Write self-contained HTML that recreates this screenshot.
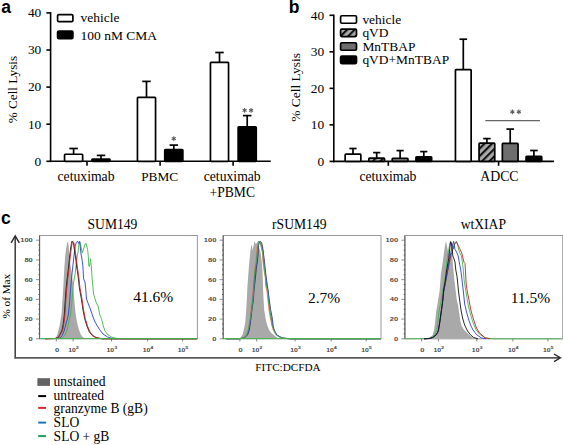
<!DOCTYPE html><html><head><meta charset="utf-8"><style>html,body{margin:0;padding:0;background:#fff;width:563px;height:445px;overflow:hidden}svg{display:block}</style></head><body>
<svg width="563" height="445" viewBox="0 0 563 445">
<defs><pattern id="hL" patternUnits="userSpaceOnUse" width="5.3" height="5.3" patternTransform="translate(0.62,0) rotate(45)"><rect width="5.3" height="5.3" fill="#a9a9a9"/><rect width="2.1" height="5.3" fill="#111"/></pattern><pattern id="hC" patternUnits="userSpaceOnUse" width="5.3" height="5.3" patternTransform="translate(0.52,0) rotate(45)"><rect width="5.3" height="5.3" fill="#a9a9a9"/><rect width="2.1" height="5.3" fill="#111"/></pattern><pattern id="hA" patternUnits="userSpaceOnUse" width="5.3" height="5.3" patternTransform="translate(4.62,0) rotate(45)"><rect width="5.3" height="5.3" fill="#a9a9a9"/><rect width="2.1" height="5.3" fill="#111"/></pattern></defs>
<rect width="563" height="445" fill="#fff"/>
<text x="1.2" y="12.6" font-family='"Liberation Sans", sans-serif' font-size="17.5" font-weight="bold" fill="#000" text-anchor="start" >a</text>
<line x1="50.6" y1="12.1" x2="50.6" y2="162.1" stroke="#000" stroke-width="1.6" stroke-linecap="butt"/>
<line x1="46.4" y1="161.3" x2="50.6" y2="161.3" stroke="#000" stroke-width="1.6" stroke-linecap="butt"/>
<text x="41.3" y="165.6" font-family='"Liberation Serif", serif' font-size="13.4" font-weight="normal" fill="#000" text-anchor="end" >0</text>
<line x1="46.4" y1="124.2" x2="50.6" y2="124.2" stroke="#000" stroke-width="1.6" stroke-linecap="butt"/>
<text x="41.3" y="128.5" font-family='"Liberation Serif", serif' font-size="13.4" font-weight="normal" fill="#000" text-anchor="end" >10</text>
<line x1="46.4" y1="87.1" x2="50.6" y2="87.1" stroke="#000" stroke-width="1.6" stroke-linecap="butt"/>
<text x="41.3" y="91.4" font-family='"Liberation Serif", serif' font-size="13.4" font-weight="normal" fill="#000" text-anchor="end" >20</text>
<line x1="46.4" y1="50" x2="50.6" y2="50" stroke="#000" stroke-width="1.6" stroke-linecap="butt"/>
<text x="41.3" y="54.3" font-family='"Liberation Serif", serif' font-size="13.4" font-weight="normal" fill="#000" text-anchor="end" >30</text>
<line x1="46.4" y1="12.9" x2="50.6" y2="12.9" stroke="#000" stroke-width="1.6" stroke-linecap="butt"/>
<text x="41.3" y="17.2" font-family='"Liberation Serif", serif' font-size="13.4" font-weight="normal" fill="#000" text-anchor="end" >40</text>
<line x1="49.8" y1="161.3" x2="270.8" y2="161.3" stroke="#000" stroke-width="1.6" stroke-linecap="butt"/>
<line x1="87" y1="161.3" x2="87" y2="165.8" stroke="#000" stroke-width="1.6" stroke-linecap="butt"/>
<line x1="160.1" y1="161.3" x2="160.1" y2="165.8" stroke="#000" stroke-width="1.6" stroke-linecap="butt"/>
<line x1="233.1" y1="161.3" x2="233.1" y2="165.8" stroke="#000" stroke-width="1.6" stroke-linecap="butt"/>
<text transform="translate(16.5,89.6) rotate(-90)" font-family='"Liberation Serif", serif' font-size="13.2" text-anchor="middle">% Cell Lysis</text>
<rect x="57.6" y="14.6" width="15.3" height="7.0" fill="#fff" stroke="#000" stroke-width="1.7" rx="1.2"/>
<rect x="57.6" y="31.1" width="15.3" height="7.6" fill="#000" stroke="#000" stroke-width="1.7" rx="1.2"/>
<text x="80.5" y="21.5" font-family='"Liberation Serif", serif' font-size="13.5" font-weight="normal" fill="#000" text-anchor="start" >vehicle</text>
<text x="80.5" y="39.6" font-family='"Liberation Serif", serif' font-size="13.5" font-weight="normal" fill="#000" text-anchor="start" >100 nM CMA</text>
<line x1="73.6" y1="148.5" x2="73.6" y2="154.25" stroke="#000" stroke-width="1.7" stroke-linecap="butt"/>
<line x1="69.35" y1="148.5" x2="77.85" y2="148.5" stroke="#000" stroke-width="1.7" stroke-linecap="butt"/>
<rect x="64.55" y="154.25" width="18.1" height="7.05" fill="#fff" stroke="#000" stroke-width="1.7" stroke-linejoin="round" rx="0.7"/>
<line x1="101" y1="155.4" x2="101" y2="159.05" stroke="#000" stroke-width="1.7" stroke-linecap="butt"/>
<line x1="96.75" y1="155.4" x2="105.25" y2="155.4" stroke="#000" stroke-width="1.7" stroke-linecap="butt"/>
<rect x="91.95" y="159.05" width="18.1" height="2.25" fill="#000" stroke="#000" stroke-width="1.7" stroke-linejoin="round" rx="0.7"/>
<line x1="146.5" y1="81.4" x2="146.5" y2="97.35" stroke="#000" stroke-width="1.7" stroke-linecap="butt"/>
<line x1="142.25" y1="81.4" x2="150.75" y2="81.4" stroke="#000" stroke-width="1.7" stroke-linecap="butt"/>
<rect x="137.45" y="97.35" width="18.1" height="63.95" fill="#fff" stroke="#000" stroke-width="1.7" stroke-linejoin="round" rx="0.7"/>
<line x1="173.8" y1="145.1" x2="173.8" y2="149.65" stroke="#000" stroke-width="1.7" stroke-linecap="butt"/>
<line x1="169.55" y1="145.1" x2="178.05" y2="145.1" stroke="#000" stroke-width="1.7" stroke-linecap="butt"/>
<rect x="164.75" y="149.65" width="18.1" height="11.65" fill="#000" stroke="#000" stroke-width="1.7" stroke-linejoin="round" rx="0.7"/>
<line x1="219.5" y1="52.5" x2="219.5" y2="62.45" stroke="#000" stroke-width="1.7" stroke-linecap="butt"/>
<line x1="215.25" y1="52.5" x2="223.75" y2="52.5" stroke="#000" stroke-width="1.7" stroke-linecap="butt"/>
<rect x="210.45" y="62.45" width="18.1" height="98.85" fill="#fff" stroke="#000" stroke-width="1.7" stroke-linejoin="round" rx="0.7"/>
<line x1="247.2" y1="115.6" x2="247.2" y2="126.85" stroke="#000" stroke-width="1.7" stroke-linecap="butt"/>
<line x1="242.95" y1="115.6" x2="251.45" y2="115.6" stroke="#000" stroke-width="1.7" stroke-linecap="butt"/>
<rect x="238.15" y="126.85" width="18.1" height="34.45" fill="#000" stroke="#000" stroke-width="1.7" stroke-linejoin="round" rx="0.7"/>
<line x1="173.8" y1="136.25" x2="173.8" y2="140.95" stroke="#555" stroke-width="1.05" stroke-linecap="butt"/>
<line x1="175.84" y1="137.42" x2="171.76" y2="139.78" stroke="#555" stroke-width="1.05" stroke-linecap="butt"/>
<line x1="175.84" y1="139.78" x2="171.76" y2="137.42" stroke="#555" stroke-width="1.05" stroke-linecap="butt"/>
<line x1="244.6" y1="107.95" x2="244.6" y2="112.65" stroke="#555" stroke-width="1.05" stroke-linecap="butt"/>
<line x1="246.64" y1="109.12" x2="242.56" y2="111.47" stroke="#555" stroke-width="1.05" stroke-linecap="butt"/>
<line x1="246.64" y1="111.47" x2="242.56" y2="109.12" stroke="#555" stroke-width="1.05" stroke-linecap="butt"/>
<line x1="251.1" y1="107.95" x2="251.1" y2="112.65" stroke="#555" stroke-width="1.05" stroke-linecap="butt"/>
<line x1="253.14" y1="109.12" x2="249.06" y2="111.47" stroke="#555" stroke-width="1.05" stroke-linecap="butt"/>
<line x1="253.14" y1="111.47" x2="249.06" y2="109.12" stroke="#555" stroke-width="1.05" stroke-linecap="butt"/>
<text x="86" y="180.6" font-family='"Liberation Serif", serif' font-size="13.7" font-weight="normal" fill="#000" text-anchor="middle" >cetuximab</text>
<text x="159.7" y="181" font-family='"Liberation Serif", serif' font-size="13.3" font-weight="normal" fill="#000" text-anchor="middle" >PBMC</text>
<text x="232.2" y="180.6" font-family='"Liberation Serif", serif' font-size="13.7" font-weight="normal" fill="#000" text-anchor="middle" >cetuximab</text>
<text x="232.3" y="196.8" font-family='"Liberation Serif", serif' font-size="13.6" font-weight="normal" fill="#000" text-anchor="middle" >+PBMC</text>
<text x="288.8" y="12.6" font-family='"Liberation Sans", sans-serif' font-size="17.5" font-weight="bold" fill="#000" text-anchor="start" >b</text>
<line x1="333.8" y1="14.5" x2="333.8" y2="162.2" stroke="#000" stroke-width="1.6" stroke-linecap="butt"/>
<line x1="329.5" y1="161.4" x2="333.8" y2="161.4" stroke="#000" stroke-width="1.6" stroke-linecap="butt"/>
<text x="324.2" y="165.8" font-family='"Liberation Serif", serif' font-size="13.4" font-weight="normal" fill="#000" text-anchor="end" >0</text>
<line x1="329.5" y1="124.88" x2="333.8" y2="124.88" stroke="#000" stroke-width="1.6" stroke-linecap="butt"/>
<text x="324.2" y="129.28" font-family='"Liberation Serif", serif' font-size="13.4" font-weight="normal" fill="#000" text-anchor="end" >10</text>
<line x1="329.5" y1="88.35" x2="333.8" y2="88.35" stroke="#000" stroke-width="1.6" stroke-linecap="butt"/>
<text x="324.2" y="92.75" font-family='"Liberation Serif", serif' font-size="13.4" font-weight="normal" fill="#000" text-anchor="end" >20</text>
<line x1="329.5" y1="51.83" x2="333.8" y2="51.83" stroke="#000" stroke-width="1.6" stroke-linecap="butt"/>
<text x="324.2" y="56.23" font-family='"Liberation Serif", serif' font-size="13.4" font-weight="normal" fill="#000" text-anchor="end" >30</text>
<line x1="329.5" y1="15.3" x2="333.8" y2="15.3" stroke="#000" stroke-width="1.6" stroke-linecap="butt"/>
<text x="324.2" y="19.7" font-family='"Liberation Serif", serif' font-size="13.4" font-weight="normal" fill="#000" text-anchor="end" >40</text>
<line x1="333" y1="161.4" x2="554" y2="161.4" stroke="#000" stroke-width="1.6" stroke-linecap="butt"/>
<line x1="388.3" y1="161.4" x2="388.3" y2="165.8" stroke="#000" stroke-width="1.6" stroke-linecap="butt"/>
<line x1="498.6" y1="161.4" x2="498.6" y2="165.8" stroke="#000" stroke-width="1.6" stroke-linecap="butt"/>
<text transform="translate(300.0,87.4) rotate(-90)" font-family='"Liberation Serif", serif' font-size="13.45" text-anchor="middle">% Cell Lysis</text>
<rect x="340.6" y="15.75" width="15.9" height="7.5" fill="#fff" stroke="#000" stroke-width="1.7" rx="1.2"/>
<text x="362.4" y="23.8" font-family='"Liberation Serif", serif' font-size="13.45" font-weight="normal" fill="#000" text-anchor="start" >vehicle</text>
<rect x="340.6" y="29.05" width="15.9" height="7.5" fill="url(#hL)" stroke="#000" stroke-width="1.7" rx="1.2"/>
<text x="362.4" y="37.1" font-family='"Liberation Serif", serif' font-size="13.45" font-weight="normal" fill="#000" text-anchor="start" >qVD</text>
<rect x="340.6" y="42.75" width="15.9" height="7.5" fill="#6e6e6e" stroke="#000" stroke-width="1.7" rx="1.2"/>
<text x="362.4" y="50.8" font-family='"Liberation Serif", serif' font-size="13.45" font-weight="normal" fill="#000" text-anchor="start" >MnTBAP</text>
<rect x="340.6" y="56.05" width="15.9" height="7.5" fill="#000" stroke="#000" stroke-width="1.7" rx="1.2"/>
<text x="362.4" y="64.1" font-family='"Liberation Serif", serif' font-size="13.45" font-weight="normal" fill="#000" text-anchor="start" >qVD+MnTBAP</text>
<line x1="353" y1="148.5" x2="353" y2="154.05" stroke="#000" stroke-width="1.7" stroke-linecap="butt"/>
<line x1="349.4" y1="148.5" x2="356.6" y2="148.5" stroke="#000" stroke-width="1.7" stroke-linecap="butt"/>
<rect x="345.15" y="154.05" width="15.7" height="7.35" fill="#fff" stroke="#000" stroke-width="1.7" stroke-linejoin="round" rx="0.7"/>
<line x1="376.7" y1="152.6" x2="376.7" y2="158.15" stroke="#000" stroke-width="1.7" stroke-linecap="butt"/>
<line x1="373.1" y1="152.6" x2="380.3" y2="152.6" stroke="#000" stroke-width="1.7" stroke-linecap="butt"/>
<rect x="368.85" y="158.15" width="15.7" height="3.25" fill="url(#hC)" stroke="#000" stroke-width="1.7" stroke-linejoin="round" rx="0.7"/>
<line x1="400.1" y1="150.6" x2="400.1" y2="158.25" stroke="#000" stroke-width="1.7" stroke-linecap="butt"/>
<line x1="396.5" y1="150.6" x2="403.7" y2="150.6" stroke="#000" stroke-width="1.7" stroke-linecap="butt"/>
<rect x="392.25" y="158.25" width="15.7" height="3.15" fill="#6e6e6e" stroke="#000" stroke-width="1.7" stroke-linejoin="round" rx="0.7"/>
<line x1="423.8" y1="151.6" x2="423.8" y2="156.85" stroke="#000" stroke-width="1.7" stroke-linecap="butt"/>
<line x1="420.2" y1="151.6" x2="427.4" y2="151.6" stroke="#000" stroke-width="1.7" stroke-linecap="butt"/>
<rect x="415.95" y="156.85" width="15.7" height="4.55" fill="#000" stroke="#000" stroke-width="1.7" stroke-linejoin="round" rx="0.7"/>
<line x1="463.3" y1="39.2" x2="463.3" y2="69.55" stroke="#000" stroke-width="1.7" stroke-linecap="butt"/>
<line x1="459.5" y1="39.2" x2="467.1" y2="39.2" stroke="#000" stroke-width="1.7" stroke-linecap="butt"/>
<rect x="455.45" y="69.55" width="15.7" height="91.85" fill="#fff" stroke="#000" stroke-width="1.7" stroke-linejoin="round" rx="0.7"/>
<line x1="486.9" y1="138.6" x2="486.9" y2="143.15" stroke="#000" stroke-width="1.7" stroke-linecap="butt"/>
<line x1="483.2" y1="138.6" x2="490.6" y2="138.6" stroke="#000" stroke-width="1.7" stroke-linecap="butt"/>
<rect x="479.05" y="143.15" width="15.7" height="18.25" fill="url(#hA)" stroke="#000" stroke-width="1.7" stroke-linejoin="round" rx="0.7"/>
<line x1="510.2" y1="129.1" x2="510.2" y2="143.45" stroke="#000" stroke-width="1.7" stroke-linecap="butt"/>
<line x1="506.4" y1="129.1" x2="514" y2="129.1" stroke="#000" stroke-width="1.7" stroke-linecap="butt"/>
<rect x="502.35" y="143.45" width="15.7" height="17.95" fill="#6e6e6e" stroke="#000" stroke-width="1.7" stroke-linejoin="round" rx="0.7"/>
<line x1="533.9" y1="150.5" x2="533.9" y2="156.25" stroke="#000" stroke-width="1.7" stroke-linecap="butt"/>
<line x1="530.1" y1="150.5" x2="537.7" y2="150.5" stroke="#000" stroke-width="1.7" stroke-linecap="butt"/>
<rect x="526.05" y="156.25" width="15.7" height="5.15" fill="#000" stroke="#000" stroke-width="1.7" stroke-linejoin="round" rx="0.7"/>
<line x1="485.3" y1="120.6" x2="539.9" y2="120.6" stroke="#666" stroke-width="1.1" stroke-linecap="butt"/>
<line x1="512.35" y1="109.45" x2="512.35" y2="114.15" stroke="#555" stroke-width="1.05" stroke-linecap="butt"/>
<line x1="514.39" y1="110.62" x2="510.31" y2="112.97" stroke="#555" stroke-width="1.05" stroke-linecap="butt"/>
<line x1="514.39" y1="112.97" x2="510.31" y2="110.62" stroke="#555" stroke-width="1.05" stroke-linecap="butt"/>
<line x1="518.85" y1="109.45" x2="518.85" y2="114.15" stroke="#555" stroke-width="1.05" stroke-linecap="butt"/>
<line x1="520.89" y1="110.62" x2="516.81" y2="112.97" stroke="#555" stroke-width="1.05" stroke-linecap="butt"/>
<line x1="520.89" y1="112.97" x2="516.81" y2="110.62" stroke="#555" stroke-width="1.05" stroke-linecap="butt"/>
<text x="387.9" y="180.6" font-family='"Liberation Serif", serif' font-size="13.7" font-weight="normal" fill="#000" text-anchor="middle" >cetuximab</text>
<text x="499.4" y="181.2" font-family='"Liberation Serif", serif' font-size="13.8" font-weight="normal" fill="#000" text-anchor="middle" >ADCC</text>
<text x="1" y="224.4" font-family='"Liberation Sans", sans-serif' font-size="17.5" font-weight="bold" fill="#000" text-anchor="start" >c</text>
<line x1="15.2" y1="236.5" x2="15.2" y2="358.5" stroke="#333" stroke-width="1.45" stroke-linecap="butt"/>
<line x1="14.5" y1="357.8" x2="560" y2="357.8" stroke="#5a5a5a" stroke-width="1.8" stroke-linecap="butt"/>
<polyline points="11.1,242.8 15.2,235.8 19.3,242.8" fill="none" stroke="#2a2a2a" stroke-width="1.4"/>
<polyline points="554.0,354.0 560.4,357.8 554.0,361.6" fill="none" stroke="#2a2a2a" stroke-width="1.4" stroke-linejoin="miter"/>
<text transform="translate(10.2,296.2) rotate(-90)" font-family='"Liberation Serif", serif' font-size="11.2" text-anchor="middle">% of Max</text>
<text x="288" y="371" font-family='"Liberation Serif", serif' font-size="11.2" font-weight="normal" fill="#000" text-anchor="middle" >FITC:DCFDA</text>
<rect x="39.6" y="235.5" width="157.8" height="103.3" fill="none" stroke="#999" stroke-width="1.0"/>
<line x1="36" y1="338.8" x2="39.6" y2="338.8" stroke="#777" stroke-width="0.8" stroke-linecap="butt"/>
<text transform="translate(32.8,340.75) scale(1.45,1)" font-family='"Liberation Sans", sans-serif' font-size="5.2" font-weight="bold" fill="#4a4a4a" text-anchor="end">0</text>
<line x1="36" y1="319.08" x2="39.6" y2="319.08" stroke="#777" stroke-width="0.8" stroke-linecap="butt"/>
<text transform="translate(32.8,321.03) scale(1.45,1)" font-family='"Liberation Sans", sans-serif' font-size="5.2" font-weight="bold" fill="#4a4a4a" text-anchor="end">20</text>
<line x1="36" y1="299.36" x2="39.6" y2="299.36" stroke="#777" stroke-width="0.8" stroke-linecap="butt"/>
<text transform="translate(32.8,301.31) scale(1.45,1)" font-family='"Liberation Sans", sans-serif' font-size="5.2" font-weight="bold" fill="#4a4a4a" text-anchor="end">40</text>
<line x1="36" y1="279.64" x2="39.6" y2="279.64" stroke="#777" stroke-width="0.8" stroke-linecap="butt"/>
<text transform="translate(32.8,281.59) scale(1.45,1)" font-family='"Liberation Sans", sans-serif' font-size="5.2" font-weight="bold" fill="#4a4a4a" text-anchor="end">60</text>
<line x1="36" y1="259.92" x2="39.6" y2="259.92" stroke="#777" stroke-width="0.8" stroke-linecap="butt"/>
<text transform="translate(32.8,261.87) scale(1.45,1)" font-family='"Liberation Sans", sans-serif' font-size="5.2" font-weight="bold" fill="#4a4a4a" text-anchor="end">80</text>
<line x1="36" y1="240.2" x2="39.6" y2="240.2" stroke="#777" stroke-width="0.8" stroke-linecap="butt"/>
<text transform="translate(32.8,242.15) scale(1.45,1)" font-family='"Liberation Sans", sans-serif' font-size="5.2" font-weight="bold" fill="#4a4a4a" text-anchor="end">100</text>
<line x1="38.4" y1="333.87" x2="40" y2="333.87" stroke="#555" stroke-width="0.9" stroke-linecap="butt"/>
<line x1="38.4" y1="328.94" x2="40" y2="328.94" stroke="#555" stroke-width="0.9" stroke-linecap="butt"/>
<line x1="38.4" y1="324.01" x2="40" y2="324.01" stroke="#555" stroke-width="0.9" stroke-linecap="butt"/>
<line x1="38.4" y1="314.15" x2="40" y2="314.15" stroke="#555" stroke-width="0.9" stroke-linecap="butt"/>
<line x1="38.4" y1="309.22" x2="40" y2="309.22" stroke="#555" stroke-width="0.9" stroke-linecap="butt"/>
<line x1="38.4" y1="304.29" x2="40" y2="304.29" stroke="#555" stroke-width="0.9" stroke-linecap="butt"/>
<line x1="38.4" y1="294.43" x2="40" y2="294.43" stroke="#555" stroke-width="0.9" stroke-linecap="butt"/>
<line x1="38.4" y1="289.5" x2="40" y2="289.5" stroke="#555" stroke-width="0.9" stroke-linecap="butt"/>
<line x1="38.4" y1="284.57" x2="40" y2="284.57" stroke="#555" stroke-width="0.9" stroke-linecap="butt"/>
<line x1="38.4" y1="274.71" x2="40" y2="274.71" stroke="#555" stroke-width="0.9" stroke-linecap="butt"/>
<line x1="38.4" y1="269.78" x2="40" y2="269.78" stroke="#555" stroke-width="0.9" stroke-linecap="butt"/>
<line x1="38.4" y1="264.85" x2="40" y2="264.85" stroke="#555" stroke-width="0.9" stroke-linecap="butt"/>
<line x1="38.4" y1="254.99" x2="40" y2="254.99" stroke="#555" stroke-width="0.9" stroke-linecap="butt"/>
<line x1="38.4" y1="250.06" x2="40" y2="250.06" stroke="#555" stroke-width="0.9" stroke-linecap="butt"/>
<line x1="38.4" y1="245.13" x2="40" y2="245.13" stroke="#555" stroke-width="0.9" stroke-linecap="butt"/>
<line x1="39.6" y1="235.5" x2="39.6" y2="338.8" stroke="#5a5a5a" stroke-width="1" stroke-linecap="butt"/>
<line x1="56.3" y1="338.8" x2="56.3" y2="341.4" stroke="#666" stroke-width="0.8" stroke-linecap="butt"/>
<text transform="translate(57.1,351.7) scale(1.45,1)" font-family='"Liberation Sans", sans-serif' font-size="5.2" font-weight="bold" fill="#4a4a4a" text-anchor="middle">0</text>
<line x1="73.1" y1="338.8" x2="73.1" y2="341.4" stroke="#666" stroke-width="0.8" stroke-linecap="butt"/>
<text transform="translate(73.5,351.7) scale(1.32,1)" font-family='"Liberation Sans", sans-serif' font-size="5.2" font-weight="bold" fill="#4a4a4a" text-anchor="middle">10<tspan dy="-2.3" font-size="4.2">2</tspan></text>
<line x1="111.5" y1="338.8" x2="111.5" y2="341.4" stroke="#666" stroke-width="0.8" stroke-linecap="butt"/>
<text transform="translate(111.9,351.7) scale(1.32,1)" font-family='"Liberation Sans", sans-serif' font-size="5.2" font-weight="bold" fill="#4a4a4a" text-anchor="middle">10<tspan dy="-2.3" font-size="4.2">3</tspan></text>
<line x1="147.6" y1="338.8" x2="147.6" y2="341.4" stroke="#666" stroke-width="0.8" stroke-linecap="butt"/>
<text transform="translate(148,351.7) scale(1.32,1)" font-family='"Liberation Sans", sans-serif' font-size="5.2" font-weight="bold" fill="#4a4a4a" text-anchor="middle">10<tspan dy="-2.3" font-size="4.2">4</tspan></text>
<line x1="182.6" y1="338.8" x2="182.6" y2="341.4" stroke="#666" stroke-width="0.8" stroke-linecap="butt"/>
<text transform="translate(183,351.7) scale(1.32,1)" font-family='"Liberation Sans", sans-serif' font-size="5.2" font-weight="bold" fill="#4a4a4a" text-anchor="middle">10<tspan dy="-2.3" font-size="4.2">5</tspan></text>
<text x="112.5" y="229.2" font-family='"Liberation Serif", serif' font-size="13.6" font-weight="normal" fill="#000" text-anchor="middle" >SUM149</text>
<text x="153.2" y="301.8" font-family='"Liberation Serif", serif' font-size="15.5" font-weight="normal" fill="#000" text-anchor="middle" >41.6%</text>
<rect x="223.2" y="235.5" width="157.8" height="103.3" fill="none" stroke="#999" stroke-width="1.0"/>
<line x1="219.6" y1="338.8" x2="223.2" y2="338.8" stroke="#777" stroke-width="0.8" stroke-linecap="butt"/>
<text transform="translate(216.4,340.75) scale(1.45,1)" font-family='"Liberation Sans", sans-serif' font-size="5.2" font-weight="bold" fill="#4a4a4a" text-anchor="end">0</text>
<line x1="219.6" y1="319.08" x2="223.2" y2="319.08" stroke="#777" stroke-width="0.8" stroke-linecap="butt"/>
<text transform="translate(216.4,321.03) scale(1.45,1)" font-family='"Liberation Sans", sans-serif' font-size="5.2" font-weight="bold" fill="#4a4a4a" text-anchor="end">20</text>
<line x1="219.6" y1="299.36" x2="223.2" y2="299.36" stroke="#777" stroke-width="0.8" stroke-linecap="butt"/>
<text transform="translate(216.4,301.31) scale(1.45,1)" font-family='"Liberation Sans", sans-serif' font-size="5.2" font-weight="bold" fill="#4a4a4a" text-anchor="end">40</text>
<line x1="219.6" y1="279.64" x2="223.2" y2="279.64" stroke="#777" stroke-width="0.8" stroke-linecap="butt"/>
<text transform="translate(216.4,281.59) scale(1.45,1)" font-family='"Liberation Sans", sans-serif' font-size="5.2" font-weight="bold" fill="#4a4a4a" text-anchor="end">60</text>
<line x1="219.6" y1="259.92" x2="223.2" y2="259.92" stroke="#777" stroke-width="0.8" stroke-linecap="butt"/>
<text transform="translate(216.4,261.87) scale(1.45,1)" font-family='"Liberation Sans", sans-serif' font-size="5.2" font-weight="bold" fill="#4a4a4a" text-anchor="end">80</text>
<line x1="219.6" y1="240.2" x2="223.2" y2="240.2" stroke="#777" stroke-width="0.8" stroke-linecap="butt"/>
<text transform="translate(216.4,242.15) scale(1.45,1)" font-family='"Liberation Sans", sans-serif' font-size="5.2" font-weight="bold" fill="#4a4a4a" text-anchor="end">100</text>
<line x1="222" y1="333.87" x2="223.6" y2="333.87" stroke="#555" stroke-width="0.9" stroke-linecap="butt"/>
<line x1="222" y1="328.94" x2="223.6" y2="328.94" stroke="#555" stroke-width="0.9" stroke-linecap="butt"/>
<line x1="222" y1="324.01" x2="223.6" y2="324.01" stroke="#555" stroke-width="0.9" stroke-linecap="butt"/>
<line x1="222" y1="314.15" x2="223.6" y2="314.15" stroke="#555" stroke-width="0.9" stroke-linecap="butt"/>
<line x1="222" y1="309.22" x2="223.6" y2="309.22" stroke="#555" stroke-width="0.9" stroke-linecap="butt"/>
<line x1="222" y1="304.29" x2="223.6" y2="304.29" stroke="#555" stroke-width="0.9" stroke-linecap="butt"/>
<line x1="222" y1="294.43" x2="223.6" y2="294.43" stroke="#555" stroke-width="0.9" stroke-linecap="butt"/>
<line x1="222" y1="289.5" x2="223.6" y2="289.5" stroke="#555" stroke-width="0.9" stroke-linecap="butt"/>
<line x1="222" y1="284.57" x2="223.6" y2="284.57" stroke="#555" stroke-width="0.9" stroke-linecap="butt"/>
<line x1="222" y1="274.71" x2="223.6" y2="274.71" stroke="#555" stroke-width="0.9" stroke-linecap="butt"/>
<line x1="222" y1="269.78" x2="223.6" y2="269.78" stroke="#555" stroke-width="0.9" stroke-linecap="butt"/>
<line x1="222" y1="264.85" x2="223.6" y2="264.85" stroke="#555" stroke-width="0.9" stroke-linecap="butt"/>
<line x1="222" y1="254.99" x2="223.6" y2="254.99" stroke="#555" stroke-width="0.9" stroke-linecap="butt"/>
<line x1="222" y1="250.06" x2="223.6" y2="250.06" stroke="#555" stroke-width="0.9" stroke-linecap="butt"/>
<line x1="222" y1="245.13" x2="223.6" y2="245.13" stroke="#555" stroke-width="0.9" stroke-linecap="butt"/>
<line x1="223.2" y1="235.5" x2="223.2" y2="338.8" stroke="#5a5a5a" stroke-width="1" stroke-linecap="butt"/>
<line x1="239.9" y1="338.8" x2="239.9" y2="341.4" stroke="#666" stroke-width="0.8" stroke-linecap="butt"/>
<text transform="translate(240.7,351.7) scale(1.45,1)" font-family='"Liberation Sans", sans-serif' font-size="5.2" font-weight="bold" fill="#4a4a4a" text-anchor="middle">0</text>
<line x1="256.7" y1="338.8" x2="256.7" y2="341.4" stroke="#666" stroke-width="0.8" stroke-linecap="butt"/>
<text transform="translate(257.1,351.7) scale(1.32,1)" font-family='"Liberation Sans", sans-serif' font-size="5.2" font-weight="bold" fill="#4a4a4a" text-anchor="middle">10<tspan dy="-2.3" font-size="4.2">2</tspan></text>
<line x1="295.1" y1="338.8" x2="295.1" y2="341.4" stroke="#666" stroke-width="0.8" stroke-linecap="butt"/>
<text transform="translate(295.5,351.7) scale(1.32,1)" font-family='"Liberation Sans", sans-serif' font-size="5.2" font-weight="bold" fill="#4a4a4a" text-anchor="middle">10<tspan dy="-2.3" font-size="4.2">3</tspan></text>
<line x1="331.2" y1="338.8" x2="331.2" y2="341.4" stroke="#666" stroke-width="0.8" stroke-linecap="butt"/>
<text transform="translate(331.6,351.7) scale(1.32,1)" font-family='"Liberation Sans", sans-serif' font-size="5.2" font-weight="bold" fill="#4a4a4a" text-anchor="middle">10<tspan dy="-2.3" font-size="4.2">4</tspan></text>
<line x1="366.2" y1="338.8" x2="366.2" y2="341.4" stroke="#666" stroke-width="0.8" stroke-linecap="butt"/>
<text transform="translate(366.6,351.7) scale(1.32,1)" font-family='"Liberation Sans", sans-serif' font-size="5.2" font-weight="bold" fill="#4a4a4a" text-anchor="middle">10<tspan dy="-2.3" font-size="4.2">5</tspan></text>
<text x="299.3" y="229.2" font-family='"Liberation Serif", serif' font-size="13.6" font-weight="normal" fill="#000" text-anchor="middle" >rSUM149</text>
<text x="324.1" y="302.8" font-family='"Liberation Serif", serif' font-size="15.5" font-weight="normal" fill="#000" text-anchor="middle" >2.7%</text>
<rect x="404.9" y="235.5" width="157.8" height="103.3" fill="none" stroke="#999" stroke-width="1.0"/>
<line x1="401.3" y1="338.8" x2="404.9" y2="338.8" stroke="#777" stroke-width="0.8" stroke-linecap="butt"/>
<text transform="translate(398.1,340.75) scale(1.45,1)" font-family='"Liberation Sans", sans-serif' font-size="5.2" font-weight="bold" fill="#4a4a4a" text-anchor="end">0</text>
<line x1="401.3" y1="319.08" x2="404.9" y2="319.08" stroke="#777" stroke-width="0.8" stroke-linecap="butt"/>
<text transform="translate(398.1,321.03) scale(1.45,1)" font-family='"Liberation Sans", sans-serif' font-size="5.2" font-weight="bold" fill="#4a4a4a" text-anchor="end">20</text>
<line x1="401.3" y1="299.36" x2="404.9" y2="299.36" stroke="#777" stroke-width="0.8" stroke-linecap="butt"/>
<text transform="translate(398.1,301.31) scale(1.45,1)" font-family='"Liberation Sans", sans-serif' font-size="5.2" font-weight="bold" fill="#4a4a4a" text-anchor="end">40</text>
<line x1="401.3" y1="279.64" x2="404.9" y2="279.64" stroke="#777" stroke-width="0.8" stroke-linecap="butt"/>
<text transform="translate(398.1,281.59) scale(1.45,1)" font-family='"Liberation Sans", sans-serif' font-size="5.2" font-weight="bold" fill="#4a4a4a" text-anchor="end">60</text>
<line x1="401.3" y1="259.92" x2="404.9" y2="259.92" stroke="#777" stroke-width="0.8" stroke-linecap="butt"/>
<text transform="translate(398.1,261.87) scale(1.45,1)" font-family='"Liberation Sans", sans-serif' font-size="5.2" font-weight="bold" fill="#4a4a4a" text-anchor="end">80</text>
<line x1="401.3" y1="240.2" x2="404.9" y2="240.2" stroke="#777" stroke-width="0.8" stroke-linecap="butt"/>
<text transform="translate(398.1,242.15) scale(1.45,1)" font-family='"Liberation Sans", sans-serif' font-size="5.2" font-weight="bold" fill="#4a4a4a" text-anchor="end">100</text>
<line x1="403.7" y1="333.87" x2="405.3" y2="333.87" stroke="#555" stroke-width="0.9" stroke-linecap="butt"/>
<line x1="403.7" y1="328.94" x2="405.3" y2="328.94" stroke="#555" stroke-width="0.9" stroke-linecap="butt"/>
<line x1="403.7" y1="324.01" x2="405.3" y2="324.01" stroke="#555" stroke-width="0.9" stroke-linecap="butt"/>
<line x1="403.7" y1="314.15" x2="405.3" y2="314.15" stroke="#555" stroke-width="0.9" stroke-linecap="butt"/>
<line x1="403.7" y1="309.22" x2="405.3" y2="309.22" stroke="#555" stroke-width="0.9" stroke-linecap="butt"/>
<line x1="403.7" y1="304.29" x2="405.3" y2="304.29" stroke="#555" stroke-width="0.9" stroke-linecap="butt"/>
<line x1="403.7" y1="294.43" x2="405.3" y2="294.43" stroke="#555" stroke-width="0.9" stroke-linecap="butt"/>
<line x1="403.7" y1="289.5" x2="405.3" y2="289.5" stroke="#555" stroke-width="0.9" stroke-linecap="butt"/>
<line x1="403.7" y1="284.57" x2="405.3" y2="284.57" stroke="#555" stroke-width="0.9" stroke-linecap="butt"/>
<line x1="403.7" y1="274.71" x2="405.3" y2="274.71" stroke="#555" stroke-width="0.9" stroke-linecap="butt"/>
<line x1="403.7" y1="269.78" x2="405.3" y2="269.78" stroke="#555" stroke-width="0.9" stroke-linecap="butt"/>
<line x1="403.7" y1="264.85" x2="405.3" y2="264.85" stroke="#555" stroke-width="0.9" stroke-linecap="butt"/>
<line x1="403.7" y1="254.99" x2="405.3" y2="254.99" stroke="#555" stroke-width="0.9" stroke-linecap="butt"/>
<line x1="403.7" y1="250.06" x2="405.3" y2="250.06" stroke="#555" stroke-width="0.9" stroke-linecap="butt"/>
<line x1="403.7" y1="245.13" x2="405.3" y2="245.13" stroke="#555" stroke-width="0.9" stroke-linecap="butt"/>
<line x1="404.9" y1="235.5" x2="404.9" y2="338.8" stroke="#5a5a5a" stroke-width="1" stroke-linecap="butt"/>
<line x1="421.6" y1="338.8" x2="421.6" y2="341.4" stroke="#666" stroke-width="0.8" stroke-linecap="butt"/>
<text transform="translate(422.4,351.7) scale(1.45,1)" font-family='"Liberation Sans", sans-serif' font-size="5.2" font-weight="bold" fill="#4a4a4a" text-anchor="middle">0</text>
<line x1="438.4" y1="338.8" x2="438.4" y2="341.4" stroke="#666" stroke-width="0.8" stroke-linecap="butt"/>
<text transform="translate(438.8,351.7) scale(1.32,1)" font-family='"Liberation Sans", sans-serif' font-size="5.2" font-weight="bold" fill="#4a4a4a" text-anchor="middle">10<tspan dy="-2.3" font-size="4.2">2</tspan></text>
<line x1="476.8" y1="338.8" x2="476.8" y2="341.4" stroke="#666" stroke-width="0.8" stroke-linecap="butt"/>
<text transform="translate(477.2,351.7) scale(1.32,1)" font-family='"Liberation Sans", sans-serif' font-size="5.2" font-weight="bold" fill="#4a4a4a" text-anchor="middle">10<tspan dy="-2.3" font-size="4.2">3</tspan></text>
<line x1="512.9" y1="338.8" x2="512.9" y2="341.4" stroke="#666" stroke-width="0.8" stroke-linecap="butt"/>
<text transform="translate(513.3,351.7) scale(1.32,1)" font-family='"Liberation Sans", sans-serif' font-size="5.2" font-weight="bold" fill="#4a4a4a" text-anchor="middle">10<tspan dy="-2.3" font-size="4.2">4</tspan></text>
<line x1="547.9" y1="338.8" x2="547.9" y2="341.4" stroke="#666" stroke-width="0.8" stroke-linecap="butt"/>
<text transform="translate(548.3,351.7) scale(1.32,1)" font-family='"Liberation Sans", sans-serif' font-size="5.2" font-weight="bold" fill="#4a4a4a" text-anchor="middle">10<tspan dy="-2.3" font-size="4.2">5</tspan></text>
<text x="483.3" y="229.2" font-family='"Liberation Serif", serif' font-size="13.6" font-weight="normal" fill="#000" text-anchor="middle" >wtXIAP</text>
<text x="530.4" y="303" font-family='"Liberation Serif", serif' font-size="15.5" font-weight="normal" fill="#000" text-anchor="middle" >11.5%</text>
<polygon points="55.5,338.8 57.5,334 59.5,326 61.5,314 62.5,300 63.4,285 64.3,268 65.2,256 66.2,248 67.2,243 68,241.2 68.7,246 69.2,254 70.3,264 71.5,272 72.6,280 73.6,290 74.5,302 75.4,312 76.6,320 78.4,328 80.5,334 83,337.5 86,338.8" fill="#a9a9a9" stroke="none"/>
<line x1="404.9" y1="338.8" x2="404.9" y2="338.8" stroke="#000" stroke-width="0" stroke-linecap="butt"/>
<polyline points="60,338.8 62.2,338.2 64.5,335.8 67.2,330 68.9,322 70.5,315 71.8,303 72.8,290 73.6,282 75,275 76,266 77,257 78.2,251.5 78.8,245 79.4,242.2 80,241.7 81,247 82.3,252.9 83.8,248 85.2,244 86,243.2 87,247 87.6,249.5 88.3,256.2 88.8,266 89.5,266.5 90.5,258.8 91.3,266 92,277 93,288 93.6,294.3 96,302 98.3,307 99.8,315 101.5,318.7 103,325 104.9,330.8 107.5,334.5 111.6,337 116,338.3 122,338.8 197.2,338.8" fill="none" stroke="#43b649" stroke-width="0.9" stroke-linejoin="round"/>
<polyline points="58,338.8 60.3,337.8 62.2,335.5 64.4,330 66.5,322 68.3,315 69.6,303 70.5,290 71.4,280 72.4,270 73.3,262 74.3,253 75.2,246 76.3,242.5 77.5,241.2 78.5,243.4 79.6,241.4 80.3,247 81,254 81.8,258 82.9,266 83.6,279 85,282 85.8,290 86.5,299 88.4,304 90.7,310 93,317 95,322 99.5,329.5 103,334 107.6,337 112,338.4 118,338.8" fill="none" stroke="#2b3fc9" stroke-width="0.9" stroke-linejoin="round"/>
<polyline points="45,338.8 55,338.5 58.2,337.5 59.9,334.5 62.1,330 63.4,323 64.3,315 65.3,300 66,290 67,280 68,272 68.9,264 69.7,256 70.6,249 71.4,243.5 72,241.2 73,242.2 73.8,245.5 74.9,252.9 75.8,259 76.6,266 78.1,276 79.4,288 81.4,299 83,310 84.7,318.7 86.9,326 89.4,332 92.4,335.6 95.9,337.6 102,338.8 197,338.8" fill="none" stroke="#111" stroke-width="0.9" stroke-linejoin="round"/>
<polyline points="45,338.8 55,338.5 58.2,337.5 60.5,334.5 62.7,330 64,323 64.9,315 65.9,300 66.6,290 67.6,280 68.6,272 69.5,264 70.3,256 71.2,249 72,243.5 72.6,241.2 73.6,242.2 74.4,245.5 75.5,252.9 76.4,259 77.2,266 78.7,276 80,288 82,299 83.6,310 85.3,318.7 87.5,326 90,332 93,335.6 96.5,337.6 102,338.8 197,338.8" fill="none" stroke="#c0282a" stroke-width="0.9" stroke-linejoin="round"/>
<polygon points="239.3,338.8 241.4,336.5 242.7,334 243.7,330 245,324 245.5,320 246.2,310 246.8,300 247.5,285 248.5,272 249.3,262 250.3,252 251.2,246 251.7,244.4 252.6,250 253.5,246 254.5,241.1 255.6,244 256.8,243 258.5,246 260.5,252 261.8,262 262.5,272 263.1,290 263.6,300 264.2,310 265.9,320 267.5,326 269.2,330 271.2,333 273.7,335 276.5,337.3 279.3,338.8" fill="#a9a9a9" stroke="none"/>
<polyline points="226,338.8 238.7,338.8 242.2,338.4 244.68,337.26 247.61,334.7 249.33,329.91 249.99,325.01 250.78,319.95 251.9,309.71 253.35,300.23 254.04,289.81 255.39,278.31 256.35,267.93 257.43,261.68 258.15,252.85 258.45,245.73 259.37,242.02 260.48,241.46 261.7,242.91 262.53,246.69 263.19,251.79 264.33,259.95 265.27,270.06 266.27,277.86 267.31,285.14 268.12,291.05 269.32,300.26 270.66,309.85 272.54,319.73 273.14,326.18 274.16,329.99 276.88,335.12 282.3,338 290.7,338.8 381,338.8" fill="none" stroke="#1c2a55" stroke-width="0.85" stroke-linejoin="round"/>
<polyline points="226,338.8 237.4,338.8 240.9,338.4 243.69,337.55 246.46,334.87 248.14,330.07 249.06,324.97 250.04,320.31 250.88,310.11 251.79,300.14 253.1,290.35 254.23,277.85 254.92,268.12 255.47,261.97 256.37,252.73 257.09,246.19 257.94,241.62 259.32,241.66 260.01,242.96 261.23,247.27 262.42,252.25 262.74,259.94 264,270.27 265.32,277.76 265.57,284.81 266.81,290.99 268.06,299.83 268.85,309.94 270.81,320.05 272.22,326.13 273.11,330.08 276.02,334.69 281,338 289.4,338.8 381,338.8" fill="none" stroke="#d98a4a" stroke-width="0.85" stroke-linejoin="round"/>
<polyline points="226,338.8 238.25,338.8 241.75,338.4 244.63,337.7 247.31,335.21 248.77,329.93 249.57,325.09 250.34,319.7 251.55,309.76 252.84,299.69 253.5,289.76 254.57,277.9 255.52,268.26 256.73,261.75 257.28,252.89 258.15,245.74 259.29,242.15 260.23,241.39 260.86,242.72 261.94,246.84 263.28,251.76 263.42,260.32 264.97,269.75 265.88,277.67 266.67,285.33 268.1,291.14 268.68,299.91 269.82,310.19 271.77,320.2 272.63,325.81 274.17,330.34 277,335.21 281.85,338 290.25,338.8 381,338.8" fill="none" stroke="#3548c8" stroke-width="0.85" stroke-linejoin="round"/>
<polyline points="226,338.8 237.85,338.8 241.35,338.4 244.17,337.67 246.46,335.01 248.35,329.67 249.12,324.85 250.08,320.13 251.67,309.96 252.86,300.34 253.77,289.91 254.25,277.81 255.24,267.79 256.34,262.28 257.29,252.99 257.96,246.21 258.36,241.91 260.14,241.6 260.93,242.98 261.42,247.2 262.53,252.21 263.68,259.93 264.48,270.31 265.61,277.77 265.99,284.76 267.73,291.21 268.2,300.23 269.99,310.11 271.25,320.03 272.09,325.66 273.88,330.1 276.37,335.3 281.45,338 289.85,338.8 381,338.8" fill="none" stroke="#4aa84a" stroke-width="0.8" stroke-linejoin="round"/>
<polygon points="426,338.8 429.7,338 432.7,335 434.1,330 435.1,322 436.1,312 437.5,304 439.6,291 440.3,282 440.9,274 442.2,265.9 443.5,256.2 444.5,249 445.3,244 446,241.2 446.8,245 447.6,249.5 448.5,254 449.3,252 450.3,254 452.2,256 453.2,268 454.4,280 455.6,290 456.8,300 458.2,306 459.5,315 460.4,321 461.6,326 463.5,329 465.2,331 467.5,333.2 470,335.5 473,337.8 476,338.8" fill="#a9a9a9" stroke="none"/>
<polyline points="405.5,338.8 423,338.6 428,338.5 431,337.6 434.5,335.3 436.8,330 438,322 438.8,312 440.3,305 441.6,298 442.8,290 444,284 445,278 446,270 446.9,262 447.8,255 448.7,250 449.5,245.5 450.2,242.5 450.8,241.8 452,245.5 453.4,249 454.8,244 456.4,241.4 457.5,244 458.8,250 460.2,254 461.4,256 462.4,262 463.3,270 464.1,280 465.2,287 466.5,295 468.2,305 470.4,314 472.8,322 475.7,329 479.5,334.2 485.2,337.8 492,338.8 562,338.8" fill="none" stroke="#43b649" stroke-width="0.9" stroke-linejoin="round"/>
<polyline points="424,338.8 429.4,338.5 432.7,337.5 436.1,335 437.6,332.5 438.5,330 439.8,322 441.2,312 442.2,305 443,298 443.4,293 444.6,287 446,280 447.5,272 449,264 450.8,256 452.6,250 454.2,245 455.4,242.5 456.5,241.8 457.6,244.5 458.8,246.7 460.2,249.5 461.6,252.9 462.6,256 463.3,260 464.2,262.5 465,263.5 465.4,270 465.8,278 466.4,286 467.6,293 469,300 470.4,308 472.2,315 474.4,322 476.5,328 479.5,333 485.2,337.8 490,338.8" fill="none" stroke="#c0282a" stroke-width="0.9" stroke-linejoin="round"/>
<polyline points="424,338.8 429.4,338.5 432.7,337.5 436.1,335 437.6,332.5 438.5,330 439.8,322 441.2,312 442.2,305 443,298 443.6,292 444.8,286 445.8,280 447,274 448.5,266 450,257 451.3,250 452.5,245 453.6,241.4 454.4,246 455,249.5 456,251 457,253 458.2,256 459.6,264 460.8,270 462,280 463.2,290 464.7,304 466.5,312 468.5,319 470.5,325 473,330 476.5,334.5 481.1,337.8 486,338.8" fill="none" stroke="#2b3fc9" stroke-width="0.9" stroke-linejoin="round"/>
<polyline points="424,338.8 429.4,338.5 432.7,337.5 436.1,335 437.6,332.5 438.5,330 439.8,322 441.2,312 442.2,305 443,298 443.6,290 444.7,284 445.6,278 446.4,272 447.6,265 448.7,258.5 449.6,250 450.2,245 450.6,241.6 451.5,244 452.3,250 452.8,256 454,259 455,262 455.8,270 457,276.5 457.7,283 458.4,290 459.6,300 461,310 462.6,318 464.3,324 466,328 467.6,331 470.5,334.8 473.7,337.5 478,338.8" fill="none" stroke="#111" stroke-width="0.9" stroke-linejoin="round"/>
<line x1="40.3" y1="338.6" x2="197.2" y2="338.6" stroke="#43b649" stroke-width="1" stroke-linecap="butt"/>
<line x1="223.8" y1="338.6" x2="381" y2="338.6" stroke="#43b649" stroke-width="1" stroke-linecap="butt"/>
<rect x="37.4" y="378.2" width="12.6" height="7.7" fill="#636363"/>
<line x1="38.2" y1="396.1" x2="46.1" y2="396.1" stroke="#000" stroke-width="2" stroke-linecap="butt"/>
<line x1="38.2" y1="407.9" x2="46.1" y2="407.9" stroke="#d42a2a" stroke-width="2" stroke-linecap="butt"/>
<line x1="38.2" y1="422.6" x2="46.1" y2="422.6" stroke="#2072c0" stroke-width="2" stroke-linecap="butt"/>
<line x1="38.2" y1="436.1" x2="46.1" y2="436.1" stroke="#1fa060" stroke-width="2" stroke-linecap="butt"/>
<text x="53.6" y="386.1" font-family='"Liberation Serif", serif' font-size="13.55" font-weight="normal" fill="#000" text-anchor="start" >unstained</text>
<text x="53.6" y="399.5" font-family='"Liberation Serif", serif' font-size="13.55" font-weight="normal" fill="#000" text-anchor="start" >untreated</text>
<text x="53.6" y="412.8" font-family='"Liberation Serif", serif' font-size="13.55" font-weight="normal" fill="#000" text-anchor="start" >granzyme B (gB)</text>
<text x="53.6" y="427" font-family='"Liberation Serif", serif' font-size="13.55" font-weight="normal" fill="#000" text-anchor="start" >SLO</text>
<text x="53.6" y="441" font-family='"Liberation Serif", serif' font-size="13.55" font-weight="normal" fill="#000" text-anchor="start" >SLO + gB</text>
</svg></body></html>
